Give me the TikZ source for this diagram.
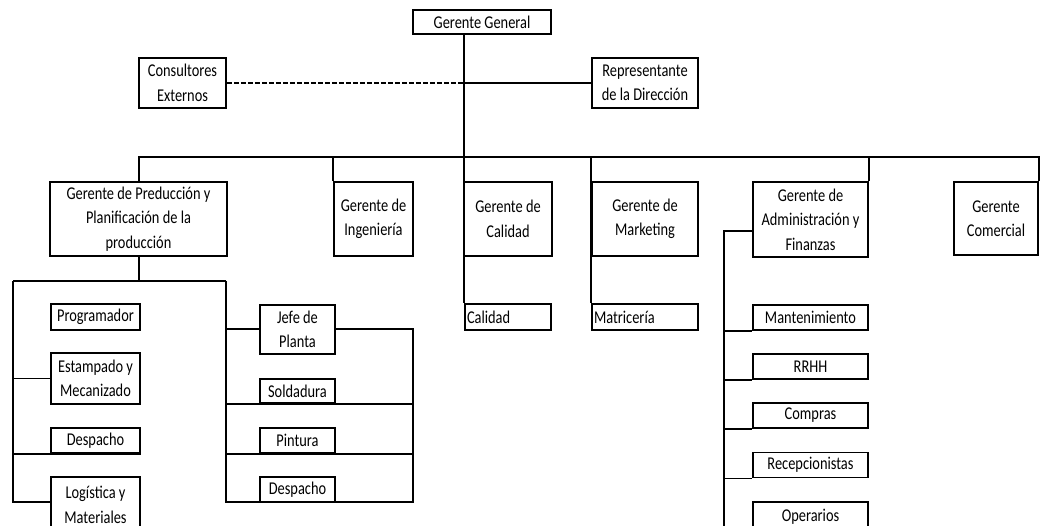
\documentclass[tikz,border=0pt]{standalone}
\usepackage{fontspec}
\setmainfont[FakeStretch=0.8]{Carlito}
\newcommand{\fs}{\fontsize{18pt}{24.5pt}\selectfont}
\begin{document}
\begin{tikzpicture}[x=1pt,y=-1pt,
  box/.style={draw, line width=1.8pt, rectangle, inner sep=0pt, align=center, font=\fs},
  lbox/.style={draw, line width=1.8pt, rectangle, inner ysep=0pt, inner xsep=2pt, align=left, font=\fs},
  ln/.style={line width=1.6pt},
  dln/.style={line width=1.6pt, dash pattern=on 5pt off 2pt}]
\useasboundingbox (0,0) rectangle (1041,526);
% top level
\node[box, minimum width=138, minimum height=24] (gg) at (482,22) {Gerente General};
\node[box, minimum width=87, minimum height=50] (cons) at (182.5,83) {Consultores\\Externos};
\node[box, minimum width=106, minimum height=50] (rep) at (645,83) {Representante\\de la Dirección};
% managers
\node[box, minimum width=177, minimum height=74] (prod) at (138.5,219) {Gerente de Preducción y\\Planificación de la\\producción};
\node[box, minimum width=79, minimum height=74] (ing) at (373.5,219) {Gerente de\\Ingeniería};
\node[box, minimum width=88, minimum height=74] (cal) at (508,219) {Gerente de\\Calidad};
\node[box, minimum width=106, minimum height=74] (mkt) at (645,219) {Gerente de\\Marketing};
\node[box, minimum width=115, minimum height=75] (adm) at (810.5,219.5) {Gerente de\\Administración y\\Finanzas};
\node[box, minimum width=84, minimum height=73] (com) at (996,218.5) {Gerente\\Comercial};
% production left
\node[box, minimum width=89, minimum height=26] (prog) at (95.5,317) {Programador};
\node[box, minimum width=89, minimum height=51] (estm) at (95.5,378.5) {Estampado y\\Mecanizado};
\node[box, minimum width=89, minimum height=25] (desp1) at (95.5,440.5) {Despacho};
\node[box, minimum width=89, minimum height=56] (log) at (95.5,505) {Logística y\\Materiales};
% production right
\node[box, minimum width=75, minimum height=49] (jefe) at (297.5,329.5) {Jefe de\\Planta};
\node[box, minimum width=75, minimum height=24] (sold) at (297.5,391) {Soldadura};
\node[box, minimum width=75, minimum height=25] (pint) at (297.5,440.5) {Pintura};
\node[box, minimum width=75, minimum height=25] (desp2) at (297.5,489.5) {Despacho};
% quality, marketing
\node[lbox, text width=82, minimum height=26] (calq) at (508,317) {Calidad};
\node[lbox, text width=102, minimum height=26] (mat) at (645,317) {Matricería};
% admin
\node[box, minimum width=115, minimum height=25] (mant) at (810.5,317.5) {Mantenimiento};
\node[box, minimum width=115, minimum height=25] (rrhh) at (810.5,366.5) {RRHH};
\node[box, minimum width=115, minimum height=25] (comp) at (810.5,415.5) {Compras};
\node[box, minimum width=115, minimum height=25] (recep) at (810.5,465) {Recepcionistas};
\node[box, minimum width=115, minimum height=30] (oper) at (810.5,517) {Operarios};
% coordinates
\coordinate (t) at (464,157);
\coordinate (tm) at (464,83);
\coordinate (pb) at (139,281);
\coordinate (pl) at (13,281);
\coordinate (pr) at (226,281);
\coordinate (plb) at (13,502);
\coordinate (prb) at (226,502);
\coordinate (jr) at (413,329);
\coordinate (jrb) at (413,502);
\coordinate (al) at (724,231);
\coordinate (alb) at (724,530);
% connectors
\draw[ln] (gg.south -| t) -- (calq.north west -| t);
\draw[dln] (cons.east) -- (tm);
\draw[ln] (tm) -- (rep.west);
\draw[ln] (prod.north -| pb) |- (com.north east |- t) -- (com.north east);
\draw[ln] (ing.north west) -- (ing.north west |- t);
\draw[ln] (mkt.north west |- t) -- (mat.north west);
\draw[ln] (adm.north east) -- (adm.north east |- t);
% production
\draw[ln] (prod.south -| pb) -- (pb);
\draw[ln] (pl) -- (pr);
\draw[ln] (pl) -- (plb) -- (plb -| log.west);
\draw[ln] (estm.west -| pl) -- (estm.west);
\draw[ln] (desp1.south west -| pl) -- (desp1.south east);
\draw[ln] (pr) -- (prb) -- (jrb) -- (jr) -- (jr -| jefe.east);
\draw[ln] (jr -| pr) -- (jr -| jefe.west);
\draw[ln] (sold.south -| pr) -- (sold.south -| jr);
\draw[ln] (pint.south -| pr) -- (pint.south -| jr);
% admin
\draw[ln] (al -| adm.west) -- (al) -- (alb);
\draw[ln] (mant.south west -| al) -- (mant.south west);
\draw[ln] (rrhh.south west -| al) -- (rrhh.south west);
\draw[ln] (comp.south west -| al) -- (comp.south west);
\draw[ln] (recep.south west -| al) -- (recep.south west);
\end{tikzpicture}
\end{document}
